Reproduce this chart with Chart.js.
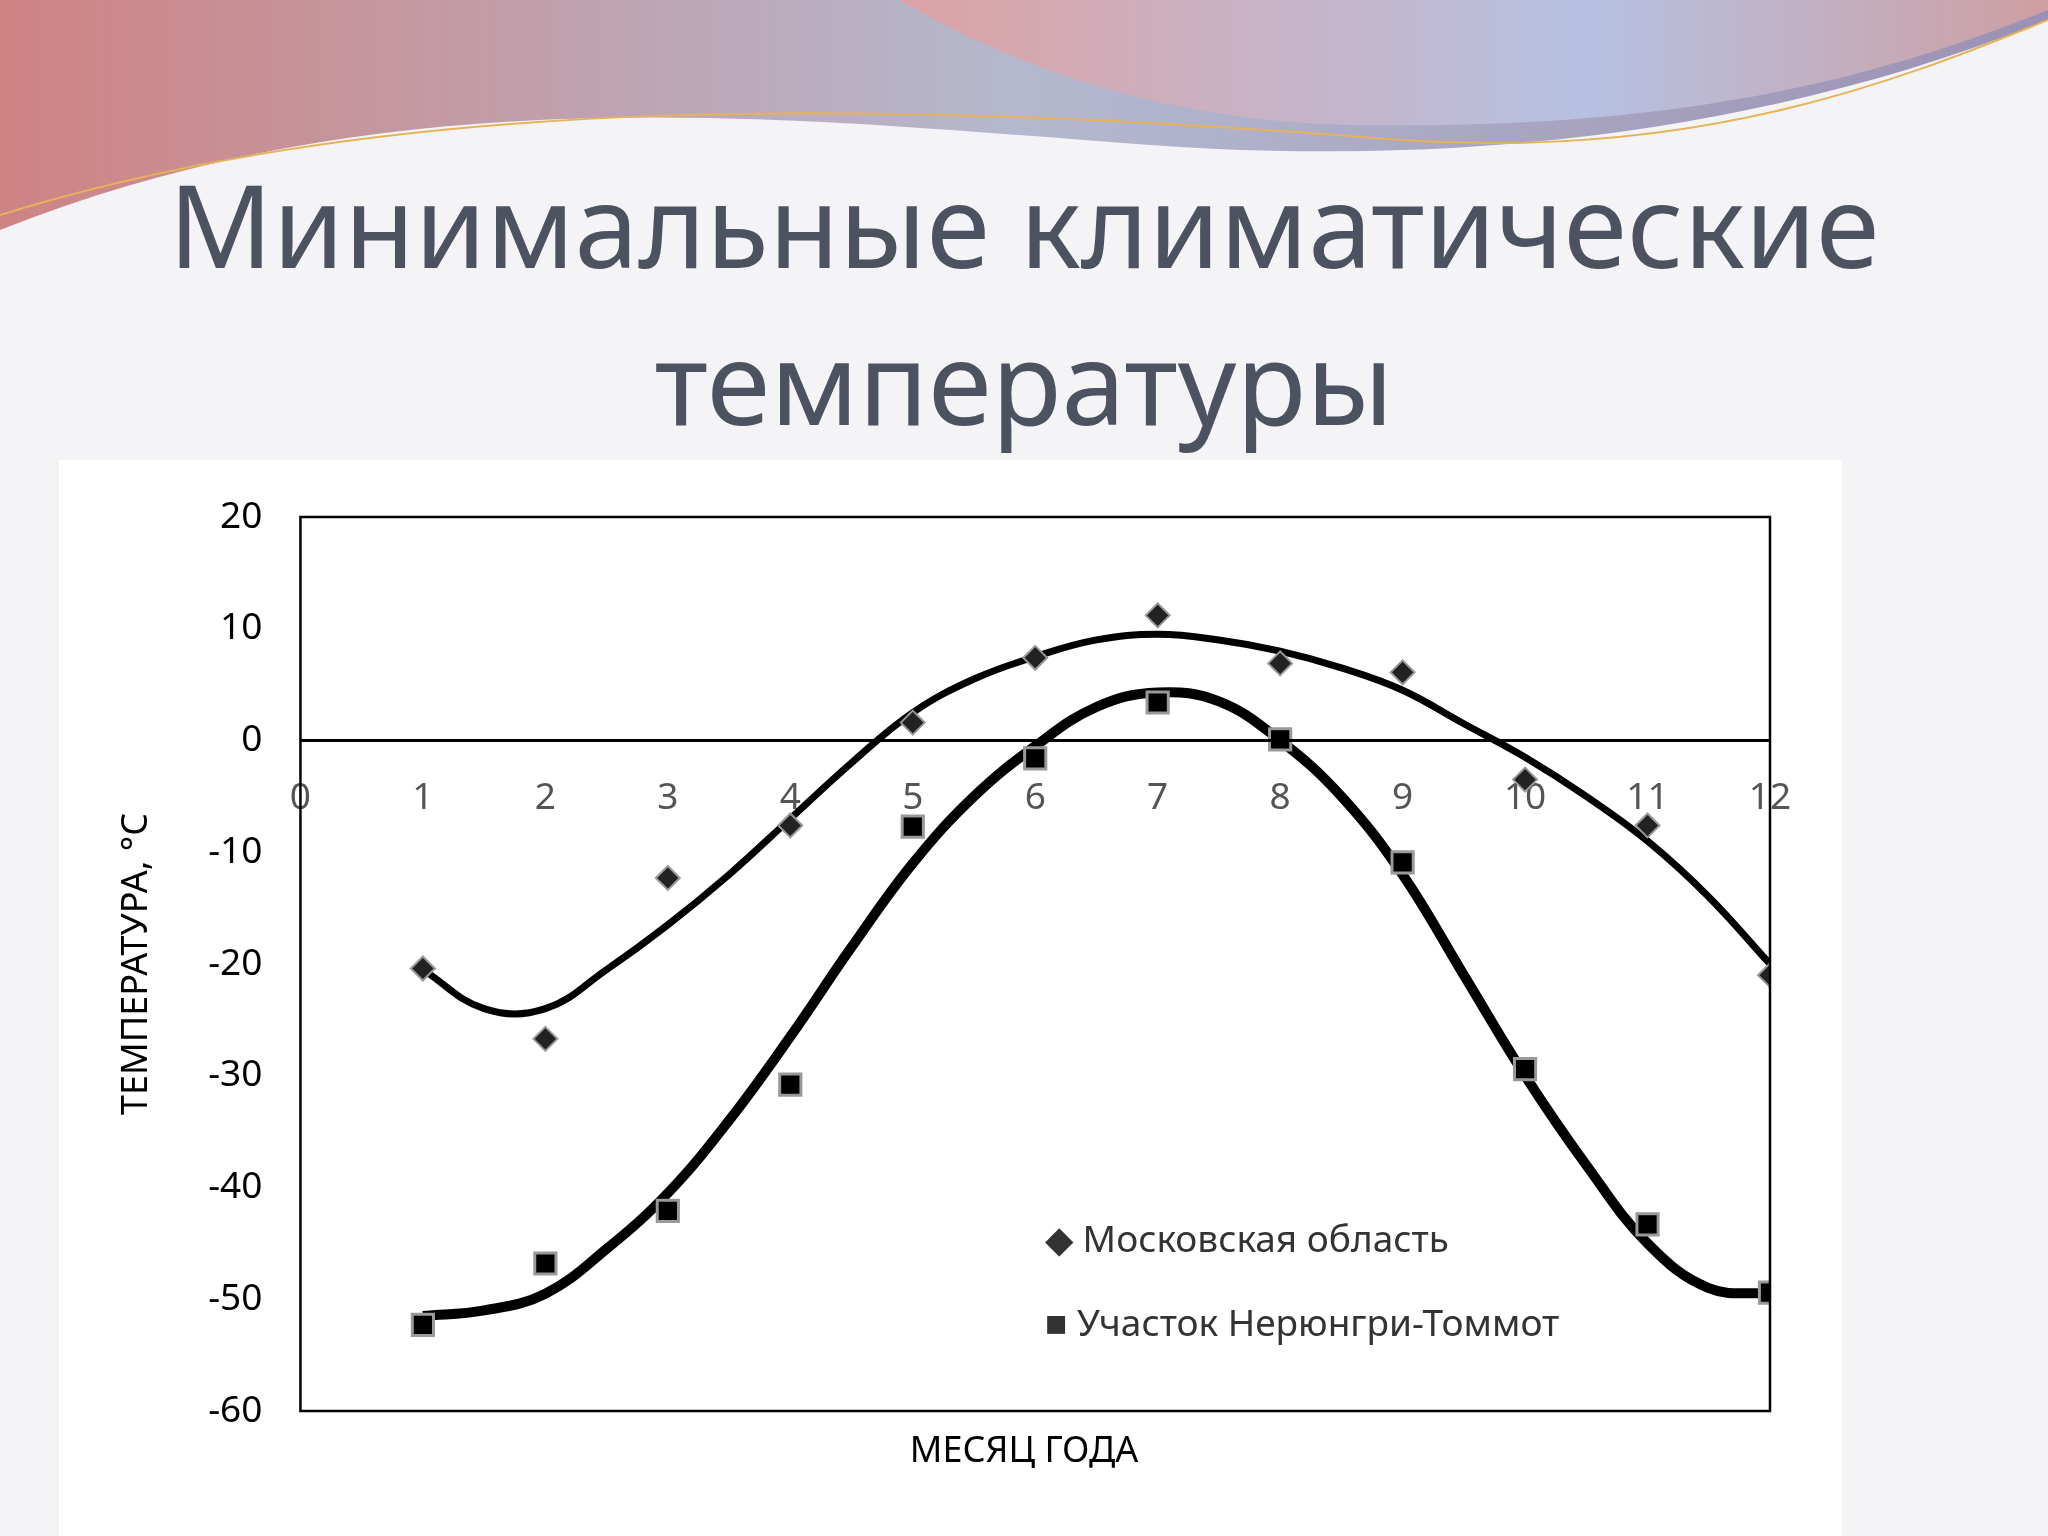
<!DOCTYPE html>
<html><head><meta charset="utf-8">
<script src="https://cdn.jsdelivr.net/npm/chart.js@4"></script>
<style>
html,body{margin:0;padding:0;}
body{width:2048px;height:1536px;position:relative;overflow:hidden;background:#f4f4f6;font-family:"Noto Sans","Open Sans",sans-serif;}
#title{position:absolute;top:145px;left:0;width:2048px;text-align:center;font-size:115px;line-height:157px;color:#4d5260;}
#box{position:absolute;left:59px;top:460px;width:1783px;height:1076px;background:#fff;}
#c{position:absolute;left:0;top:0;}
#xt{position:absolute;left:0;width:2048px;top:1424px;text-align:center;font-size:36px;color:#000;}
.lg{position:absolute;font-size:37px;color:#333;}
</style></head><body>
<svg style="position:absolute;left:0;top:0" width="2048" height="240">
<defs><linearGradient id="g1" x1="0" x2="1"><stop offset="0" stop-color="#c86f6f"/><stop offset="0.5" stop-color="#a9aec8"/><stop offset="1" stop-color="#8c7fa8"/></linearGradient>
<linearGradient id="g2" x1="0" x2="1"><stop offset="0" stop-color="#e0a0a0"/><stop offset="0.6" stop-color="#b8c4e6"/><stop offset="1" stop-color="#d4a0a0"/></linearGradient></defs>
<path d="M0 0 H2048 V20 C1800 120 1500 170 1150 145 C800 120 400 70 0 230 Z" fill="url(#g1)" opacity="0.85"/>
<path d="M900 0 H2048 V10 C1850 90 1650 130 1350 125 C1150 120 1000 60 900 0 Z" fill="url(#g2)" opacity="0.9"/>
<path d="M0 215 C400 90 900 100 1400 140 C1700 160 1900 80 2048 20" stroke="#e6b25a" stroke-width="2" fill="none"/>
</svg>
<div id="title">Минимальные климатические<br>температуры</div>
<div id="box"></div>
<canvas id="c" width="2048" height="1536"></canvas>
<div id="xt">МЕСЯЦ ГОДА</div>
<div class="lg" style="left:1045px;top:1212px">◆ Московская область</div>
<div class="lg" style="left:1045px;top:1296px">■ Участок Нерюнгри-Томмот</div>
<script>
const months=[1,2,3,4,5,6,7,8,9,10,11,12];
const moscow=[-20.4,-26.7,-12.3,-7.6,1.6,7.4,11.2,6.9,6.1,-3.5,-7.6,-21];
const neryungri=[-52.3,-46.8,-42.1,-30.8,-7.7,-1.6,3.4,0.1,-10.9,-29.4,-43.3,-49.4];
const trendX=[1,1.5,2,2.5,3,3.5,4,4.5,5,5.5,6,6.5,7,7.5,8,8.5,9,9.5,10,10.5,11,11.5,12];
const moscowTrend=[-20.5,-24,-24,-20.5,-16.5,-12,-7,-2,2.5,5.5,7.5,9,9.5,9,8,6.5,4.5,1.5,-1.5,-5,-9,-14,-20];
const neryungriTrend=[-51.5,-51,-49.5,-45.5,-40.5,-34,-26.5,-18.5,-11,-5,-0.5,3,4.3,3.5,0,-5,-12,-21,-30,-38,-45,-49,-49.5];
const xy=(xs,ys)=>xs.map((x,i)=>({x:x,y:ys[i]}));
const frame={id:'frame',afterDatasetsDraw(ch){const a=ch.chartArea,c=ch.ctx;c.save();c.strokeStyle='#000';c.lineWidth=2.5;c.strokeRect(a.left,a.top,a.right-a.left,a.bottom-a.top);
const y0=ch.scales.y.getPixelForValue(0);c.lineWidth=3;c.beginPath();c.moveTo(a.left,y0);c.lineTo(a.right,y0);c.stroke();c.restore();}};
new Chart(document.getElementById('c'),{
 type:'scatter',
 data:{datasets:[
  {data:xy(trendX,moscowTrend),showLine:true,borderColor:'#000',borderWidth:7,pointRadius:0,tension:0.4,order:2},
  {data:xy(trendX,neryungriTrend),showLine:true,borderColor:'#000',borderWidth:10,pointRadius:0,tension:0.4,order:2},
  {data:xy(months,moscow),pointStyle:'rectRot',pointRadius:12,backgroundColor:'#222',borderColor:'#999',borderWidth:2,order:1},
  {data:xy(months,neryungri),pointStyle:'rect',pointRadius:15,backgroundColor:'#000',borderColor:'#999',borderWidth:3,order:1}
 ]},
 options:{responsive:false,animation:false,
  layout:{padding:{left:95,right:278,top:517,bottom:125}},
  plugins:{legend:{display:false},tooltip:{enabled:false}},
  scales:{
   x:{type:'linear',min:0,max:12,position:{y:0},grid:{display:false},border:{display:false},
      ticks:{stepSize:1,color:'#555',font:{size:37,family:'Noto Sans'},padding:28}},
   y:{min:-60,max:20,grid:{display:false},border:{display:false},
      ticks:{stepSize:10,color:'#000',font:{size:37,family:'Noto Sans'},padding:30},
      title:{display:true,text:'ТЕМПЕРАТУРА, °C',color:'#000',font:{size:36,family:'Noto Sans'},padding:20}}
  }},
 plugins:[frame]
});
</script></body></html>
